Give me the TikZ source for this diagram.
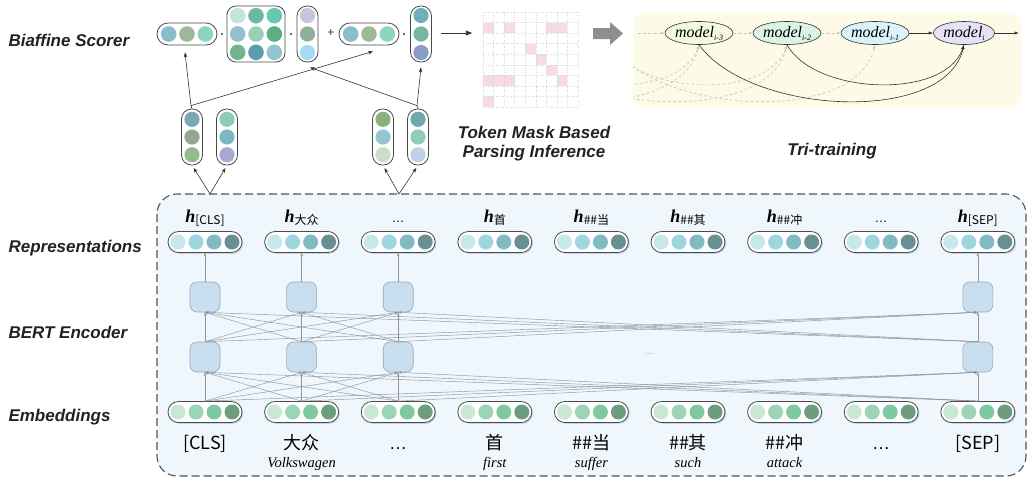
\documentclass[tikz,border=0pt]{standalone}
\usepackage{fontspec}
\setmainfont{Liberation Serif}
\newfontfamily\cjk{Noto Sans CJK SC}
\newfontfamily\lab{Liberation Sans}
\usetikzlibrary{arrows.meta,shadows,shapes.geometric,calc}
\definecolor{rA}{HTML}{C6E7EB}\definecolor{rB}{HTML}{9ED6DD}\definecolor{rC}{HTML}{7FBBC0}\definecolor{rD}{HTML}{688F94}
\definecolor{eA}{HTML}{C9E7D5}\definecolor{eB}{HTML}{9DD3B6}\definecolor{eC}{HTML}{7FC9A1}\definecolor{eD}{HTML}{6C9E7E}
\definecolor{sA}{HTML}{8BBCCB}\definecolor{sB}{HTML}{9DB999}\definecolor{sC}{HTML}{8FD4C1}
\definecolor{mA}{HTML}{C2E4DC}\definecolor{mB}{HTML}{6DB8A4}\definecolor{mC}{HTML}{66C8B0}
\definecolor{mD}{HTML}{93C0CC}\definecolor{mE}{HTML}{9CCFB8}\definecolor{mF}{HTML}{5CAF80}
\definecolor{mG}{HTML}{72B48E}\definecolor{mH}{HTML}{5A9EAE}\definecolor{mI}{HTML}{92C4D2}
\definecolor{vA}{HTML}{C5C5DE}\definecolor{vB}{HTML}{8FB09A}\definecolor{vC}{HTML}{A3DCF0}
\definecolor{wA}{HTML}{70AEBE}\definecolor{wB}{HTML}{78B4A0}\definecolor{wC}{HTML}{8A9CC8}
\definecolor{pA}{HTML}{7EA6B4}\definecolor{pB}{HTML}{9AA58E}\definecolor{pC}{HTML}{96BA8E}
\definecolor{qA}{HTML}{8ECBB8}\definecolor{qB}{HTML}{78B8C0}\definecolor{qC}{HTML}{A8A8D2}
\definecolor{kA}{HTML}{8CAF7E}\definecolor{kB}{HTML}{96C4D0}\definecolor{kC}{HTML}{C8E0C8}
\definecolor{jA}{HTML}{70A8AC}\definecolor{jB}{HTML}{90CCB8}\definecolor{jC}{HTML}{C0D0E8}
\definecolor{moA}{HTML}{F3FADF}\definecolor{moB}{HTML}{DCF3E6}\definecolor{moC}{HTML}{DCF2FA}\definecolor{moD}{HTML}{E5E2F7}
\definecolor{pillb}{HTML}{4A4A4A}\definecolor{shc}{HTML}{B9D5E8}
\definecolor{encf}{HTML}{C9DFF0}\definecolor{encd}{HTML}{9AA7B2}
\definecolor{conn}{HTML}{8F959A}\definecolor{boxf}{HTML}{EFF7FD}\definecolor{dashc}{HTML}{555555}
\definecolor{panel}{HTML}{FDFBE7}\definecolor{pinkc}{HTML}{F7DAE5}\definecolor{gridc}{HTML}{D5D5D5}
\definecolor{darkc}{HTML}{333333}\definecolor{dgc}{HTML}{C4C4C4}\definecolor{txt}{HTML}{222222}
\definecolor{bigarr}{HTML}{8E8E8E}
\newcommand\labfont{\lab\bfseries\itshape\fontsize{17}{20}\selectfont}
\newcommand\tokf{\cjk\fontsize{18}{18}\selectfont}
\newcommand\ellf{\lab\fontsize{18}{18}\selectfont}
\newcommand\trf{\itshape\fontsize{14.5}{14.5}\selectfont}
\newcommand\hh[1]{{\fontsize{18}{18}\selectfont\bfseries\itshape h}\raisebox{-2.5pt}{\cjk\fontsize{12}{12}\selectfont #1}}
\newcommand\mlab[1]{\itshape\fontsize{16}{16}\selectfont model\raisebox{-3pt}{\fontsize{8}{8}\selectfont #1}}
\newcommand\hpillfour[4]{%
  \node[rp] (#1) at (#2,#3) {};
  \foreach \clr [count=\i] in {#4} {\fill[\clr] ({#2+(\i-2.5)*18},#3) circle[radius=7.5pt];}}
\newcommand\hpillthree[4]{%
  \node[pill, minimum width=60pt, minimum height=22pt, rounded corners=11pt] (#1) at (#2,#3) {};
  \foreach \clr [count=\i] in {#4} {\fill[\clr] ({#2+(\i-2)*18.3},#3) circle[radius=7.8pt];}}
\newcommand\vpillthree[5]{%
  \node[pill, minimum width=21pt, minimum height=56pt, rounded corners=10pt] (#1) at (#2,#3) {};
  \foreach \clr [count=\i] in {#5} {\fill[\clr] (#2,{#3+(\i-2)*#4}) circle[radius=7.6pt];}}
\begin{document}
\begin{tikzpicture}[x=1pt,y=-1pt,
  pill/.style={draw=pillb, line width=0.8pt, fill=white, rectangle, inner sep=0pt},
  rp/.style={pill, minimum width=74pt, minimum height=21pt, rounded corners=10.5pt,
     drop shadow={shadow xshift=1.3pt,shadow yshift=-1.3pt,fill=shc,opacity=0.9}},
  encbox/.style={rectangle, rounded corners=7pt, minimum width=30pt, minimum height=30pt,
     fill=encf, draw=encd, line width=0.6pt, inner sep=0pt},
  garr/.style={draw=conn, line width=0.45pt, -{Stealth[length=3.5pt,width=2.6pt]}},
  barr/.style={draw=darkc, line width=0.6pt, -{Stealth[length=5pt,width=3.6pt]}},
  blk/.style={draw=darkc, line width=0.6pt, -{Latex[length=4.5pt,width=3.2pt]}},
  dga/.style={draw=dgc, line width=0.6pt, dash pattern=on 3pt off 2.2pt, -{Latex[length=4pt,width=3pt]}},
  mnode/.style={ellipse, draw=darkc, line width=0.6pt, minimum width=61pt, minimum height=23pt, inner sep=0pt},
  lbl/.style={anchor=base west, text=txt, font=\labfont},
  ctl/.style={anchor=base, text=txt, font=\labfont}]
\useasboundingbox (0,0) rectangle (1029,483);

% ---------- left labels
\node[lbl] (L1) at (5,46) {Biaffine Scorer};
\node[lbl] (L2) at (5,252) {Representations};
\node[lbl] (L3) at (5,338) {BERT Encoder};
\node[lbl] (L4) at (5,421) {Embeddings};

% ---------- dashed container
\draw[dash pattern=on 8pt off 4pt, line width=1.1pt, draw=dashc, fill=boxf, rounded corners=20pt]
  (157,194) rectangle (1026,476);

% ---------- rep and embedding pills
\foreach \k in {1,...,9} {
  \pgfmathsetmacro\xx{205+96.6*(\k-1)}
  \hpillfour{r\k}{\xx}{242}{rA,rB,rC,rD}
  \hpillfour{e\k}{\xx}{412}{eA,eB,eC,eD}
}
% ---------- encoder boxes
\foreach \k in {1,2,3,9} {
  \pgfmathsetmacro\xx{205+96.6*(\k-1)}
  \node[encbox] (u\k) at (\xx,297) {};
  \node[encbox] (l\k) at (\xx,357) {};
}
\foreach \k in {1,2,3,9} {
  \draw[garr] (e\k.north) -- (l\k.south);
  \draw[garr] (l\k.north) -- (u\k.south);
  \draw[garr] (u\k.north) -- (r\k.south);
  \foreach \j in {1,2,3,9} {
    \ifnum\k=\j\else
      \draw[garr] (e\k.north) -- (l\j.south);
      \draw[garr] (l\k.north) -- (u\j.south);
    \fi
  }
}
\node[text=conn, font=\lab\fontsize{9}{9}\selectfont] (dots) at (649,355) {···};

% ---------- h labels
\node[anchor=base] (h1) at (205,222) {\hh{[CLS]}};
\node[anchor=base] (h2) at (301.6,222) {\hh{大众}};
\node[anchor=base, font=\lab\fontsize{13}{13}\selectfont] (h3) at (398.2,222) {…};
\node[anchor=base] (h4) at (494.8,222) {\hh{首}};
\node[anchor=base] (h5) at (591.4,222) {\hh{\#\#当}};
\node[anchor=base] (h6) at (688,222) {\hh{\#\#其}};
\node[anchor=base] (h7) at (784.6,222) {\hh{\#\#冲}};
\node[anchor=base, font=\lab\fontsize{13}{13}\selectfont] (h8) at (881.2,222) {…};
\node[anchor=base] (h9) at (977.8,222) {\hh{[SEP]}};

% ---------- tokens
\node[anchor=base, font=\tokf] (t1) at (205,449) {[CLS]};
\node[anchor=base, font=\tokf] (t2) at (301.6,449) {大众};
\node[anchor=base, font=\ellf] (t3) at (398.2,449) {…};
\node[anchor=base, font=\tokf] (t4) at (494.8,449) {首};
\node[anchor=base, font=\tokf] (t5) at (591.4,449) {\#\#当};
\node[anchor=base, font=\tokf] (t6) at (688,449) {\#\#其};
\node[anchor=base, font=\tokf] (t7) at (784.6,449) {\#\#冲};
\node[anchor=base, font=\ellf] (t8) at (881.2,449) {…};
\node[anchor=base, font=\tokf] (t9) at (977.8,449) {[SEP]};
\node[anchor=base, font=\trf] (w2) at (301.6,467) {Volkswagen};
\node[anchor=base, font=\trf] (w4) at (494.8,467) {first};
\node[anchor=base, font=\trf] (w5) at (591.4,467) {suffer};
\node[anchor=base, font=\trf] (w6) at (688,467) {such};
\node[anchor=base, font=\trf] (w7) at (784.6,467) {attack};

% ---------- biaffine scorer
\hpillthree{s1}{187}{34}{sA,sB,sC}
\node[pill, minimum width=58pt, minimum height=56pt, rounded corners=9pt] (mat) at (256,34) {};
\foreach \row/\cols in {-18.3/{mA,mB,mC},0/{mD,mE,mF},18.3/{mG,mH,mI}} {
  \foreach \clr [count=\i] in \cols {\fill[\clr] ({256+(\i-2)*18.3},{34+\row}) circle[radius=7.8pt];}
}
\vpillthree{v1}{307.5}{34}{18.5}{vA,vB,vC}
\hpillthree{s2}{369}{34}{sA,sB,sC}
\vpillthree{v2}{421}{34}{18.5}{wA,wB,wC}
\fill[darkc] (222,34) circle[radius=1.1pt];
\fill[darkc] (291,34) circle[radius=1.1pt];
\fill[darkc] (404,34) circle[radius=1.1pt];
\node[text=darkc, font=\lab\fontsize{12}{12}\selectfont] (plus) at (331,33.5) {+};

% ---------- head / dependent vectors
\vpillthree{lp1}{192}{137}{17.7}{pA,pB,pC}
\vpillthree{lp2}{227}{137}{17.7}{qA,qB,qC}
\vpillthree{rp1}{383}{137}{17.7}{kA,kB,kC}
\vpillthree{rp2}{418}{137}{17.7}{jA,jB,jC}
\coordinate (lroot) at (210,194);
\coordinate (rroot) at (399,194);
\draw[barr, shorten >=3pt] (lroot) -- (lp1.south);
\draw[barr, shorten >=3pt] (lroot) -- (lp2.south);
\draw[barr, shorten >=3pt] (rroot) -- (rp1.south);
\draw[barr, shorten >=3pt] (rroot) -- (rp2.south);
\coordinate (ljoin) at ($(lp1.north)+(-1,-3)$);
\coordinate (rjoin) at ($(rp2.north)+(-1,-3)$);
\draw[darkc, line width=0.6pt] (lp1.north) -- (ljoin);
\draw[darkc, line width=0.6pt] (rp2.north) -- (rjoin);
\draw[barr] (ljoin) -- ($(s1.south)+(-2,7)$);
\draw[barr] (ljoin) -- ($(s2.south)+(4,6)$);
\draw[barr] (rjoin) -- ($(v1.south)+(2.5,5)$);
\draw[barr] (rjoin) -- ($(v2.south)+(0,5)$);

% ---------- token mask grid
\foreach \r/\c in {2/1,2/3,2/7,2/8,4/5,5/6,6/7,7/1,7/2,7/3,7/8,9/1}
  \fill[pinkc] ({483+10.55*(\c-1)},{12+10.55*(\r-1)}) rectangle ++(10.55,10.55);
\foreach \i in {0,...,9} {
  \draw[gridc, line width=0.5pt, dotted] ({483+10.55*\i},12) -- ({483+10.55*\i},107);
  \draw[gridc, line width=0.5pt, dotted] (483,{12+10.55*\i}) -- (578,{12+10.55*\i});
}
\node[minimum size=95pt, inner sep=0pt] (grid) at (530.5,59.5) {};
\coordinate (ga) at ($(v2.east)+(9.5,-1)$);
\coordinate (gb) at ($(grid.west)+(-10,-26.5)$);
\draw[line width=0.9pt, darkc, -{Latex[length=7pt,width=5.5pt]}] (ga) -- (gb);
\node[ctl] (tm1) at (534,138) {Token Mask Based};
\node[ctl] (tm2) at (534,157) {Parsing Inference};

% ---------- big gray arrow
\fill[bigarr] (593,28) -- (610,28) -- (610,22) -- (623,33.5) -- (610,45) -- (610,39) -- (593,39) -- cycle;

% ---------- tri-training panel
\fill[panel, rounded corners=12pt] (633,13) rectangle (1021,108);
\node[mnode, fill=moA] (m3) at (699,33) {\mlab{i-3}};
\node[mnode, fill=moB] (m2) at (787,33) {\mlab{i-2}};
\node[mnode, fill=moC] (m1) at (875,33) {\mlab{i-1}};
\node[mnode, fill=moD] (m0) at (964,33) {\mlab{i}};
\coordinate (v6) at (434,45);
\coordinate (v5) at (522,45);
\coordinate (v4) at (610,45);
\begin{scope}
  \clip[rounded corners=12pt] (633,13) rectangle (1021,108);
  \draw[dga] (v5) .. controls (550,95) and (680,100) .. (m3.south);
  \draw[dga] (v6) .. controls (485,115) and (680,125) .. (m3.south);
  \draw[dga] (v4) .. controls (638,95) and (768,100) .. (m2.south);
  \draw[dga] (v5) .. controls (573,115) and (768,125) .. (m2.south);
  \draw[dga] (v4) .. controls (661,115) and (856,125) .. (m1.south);
\end{scope}
\coordinate (tstart) at (638,33);
\coordinate (tend) at (1019,33);
\draw[dga] (tstart) -- (m3.west);
\draw[dga] (m3.east) -- (m2.west);
\draw[dga] (m2.east) -- (m1.west);
\draw[blk] (m1.east) -- (m0.west);
\draw[blk] (m0.east) -- (tend);
\draw[blk] (m3.south) .. controls (750,115) and (945,125) .. (m0.south);
\draw[blk] (m2.south) .. controls (815,95) and (945,100) .. (m0.south);
\node[ctl] (tri) at (832,155) {Tri-training};
\end{tikzpicture}
\end{document}
